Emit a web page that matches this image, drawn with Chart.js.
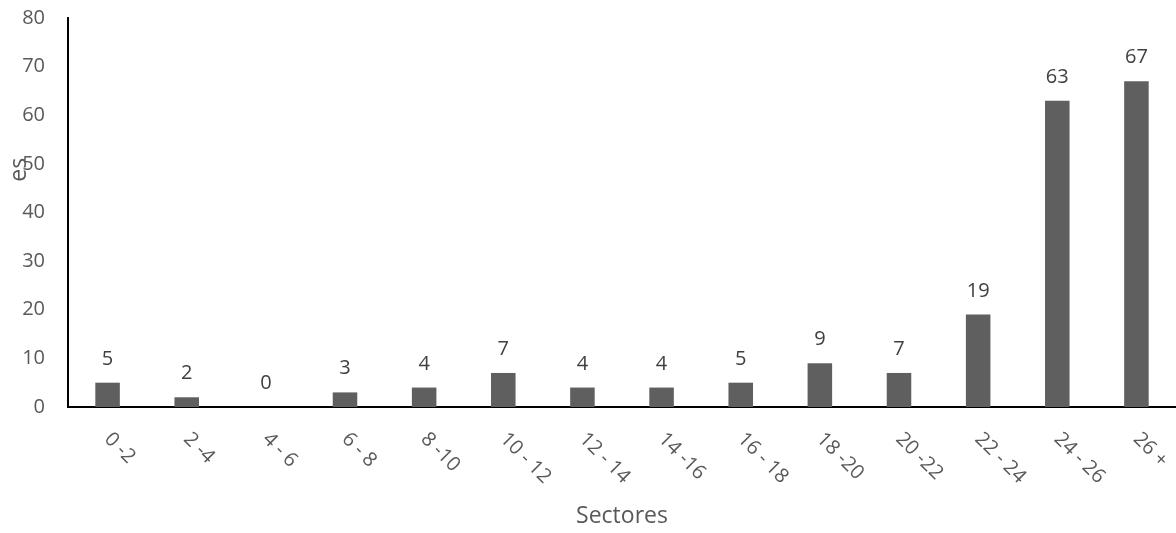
<!DOCTYPE html>
<html>
<head>
<meta charset="utf-8">
<title>Sectores</title>
<script src="https://cdn.jsdelivr.net/npm/chart.js@4/dist/chart.umd.min.js"></script>
<style>
  html, body { margin: 0; padding: 0; background: #ffffff; }
  canvas { display: block; }
</style>
</head>
<body>
<canvas id="chart" width="1176" height="533"></canvas>
<script>
// Ranges along the x axis and the count for each range
const categories = ['0 -2', '2 -4', '4 - 6', '6 - 8', '8 -10', '10 - 12', '12 - 14',
                    '14 -16', '16 - 18', '18 -20', '20 -22', '22 - 24', '24 - 26', '26 +'];
const counts = [5, 2, 0, 3, 4, 7, 4, 4, 5, 9, 7, 19, 63, 67];

// Value axis ticks
const yMin = 0;
const yMax = 80;
const yStep = 10;

// Axis titles
const xTitle = 'Sectores';
const yTitle = 'es';

const FONT_FAMILY = '"Open Sans", "Liberation Sans", sans-serif';
const FONT_SIZE = 20;
const TITLE_SIZE = 23;
const AXIS_TEXT = '#595959';
const VALUE_TEXT = '#404040';
const BAR_FILL = '#5f5f5f';

// Draws value labels above the bars, the slanted category labels and both axis titles
const labelPlugin = {
  id: 'labelPlugin',
  afterDatasetsDraw(chart) {
    const ctx = chart.ctx;
    const area = chart.chartArea;
    const xScale = chart.scales.x;
    ctx.save();
    ctx.font = FONT_SIZE + 'px ' + FONT_FAMILY;

    // values above each bar
    ctx.fillStyle = VALUE_TEXT;
    ctx.textAlign = 'center';
    ctx.textBaseline = 'alphabetic';
    chart.getDatasetMeta(0).data.forEach((bar, i) => {
      ctx.fillText(String(counts[i]), bar.x, bar.y - 18);
    });

    // category labels, running down to the right at 45 degrees
    ctx.fillStyle = AXIS_TEXT;
    ctx.textAlign = 'left';
    ctx.textBaseline = 'middle';
    categories.forEach((label, i) => {
      const x = xScale.getPixelForValue(i);
      ctx.save();
      ctx.translate(x, area.bottom + 29);
      ctx.rotate(Math.PI / 4);
      ctx.fillText(label, 0, 0);
      ctx.restore();
    });

    // axis titles
    ctx.font = TITLE_SIZE + 'px ' + FONT_FAMILY;
    ctx.textAlign = 'center';
    ctx.fillText(xTitle, (area.left + area.right) / 2, area.bottom + 109);

    ctx.save();
    ctx.translate(area.left - 49, area.top + 0.39 * (area.bottom - area.top));
    ctx.rotate(-Math.PI / 2);
    ctx.fillText(yTitle, 0, 0);
    ctx.restore();

    ctx.restore();
  }
};

new Chart(document.getElementById('chart'), {
  type: 'bar',
  data: {
    labels: categories,
    datasets: [{
      data: counts,
      backgroundColor: BAR_FILL,
      borderWidth: 0,
      barPercentage: 0.31,
      categoryPercentage: 1.0
    }]
  },
  options: {
    responsive: false,
    animation: false,
    devicePixelRatio: 1,
    layout: { padding: { top: 18, right: 0, left: 0, bottom: 0 } },
    plugins: {
      legend: { display: false },
      tooltip: { enabled: false }
    },
    scales: {
      x: {
        grid: { display: false, drawTicks: false },
        border: { display: true, color: '#000000', width: 2 },
        ticks: { display: false },
        afterFit(scale) { scale.height = 126; }
      },
      y: {
        min: yMin,
        max: yMax,
        grid: { display: false, drawTicks: false },
        border: { display: true, color: '#000000', width: 2 },
        ticks: {
          stepSize: yStep,
          padding: 23,
          color: AXIS_TEXT,
          font: { family: FONT_FAMILY, size: FONT_SIZE }
        },
        afterFit(scale) {
          scale.width = 68;
          scale.paddingTop = 0;
          scale.paddingBottom = 0;
        }
      }
    }
  },
  plugins: [labelPlugin]
});
</script>
</body>
</html>
